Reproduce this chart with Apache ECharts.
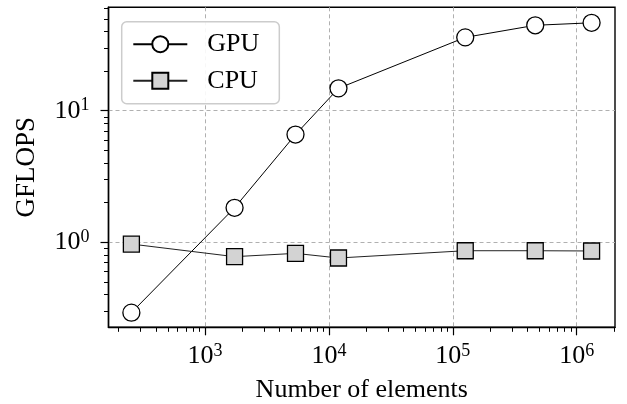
<!DOCTYPE html>
<html>
<head>
<meta charset="utf-8">
<script src="https://cdn.jsdelivr.net/npm/echarts@6/dist/echarts.min.js"></script>
<style>
  html, body { margin: 0; padding: 0; background: #ffffff; }
  #chart { width: 627px; height: 404px; }
</style>
</head>
<body>
<div id="chart"></div>
<script>
var elements = [254, 1730, 5370, 11940, 126000, 463000, 1320000]
var gpuGflops = [0.292, 1.83, 6.59, 14.8, 36.1, 44.6, 46.6]
var cpuGflops = [0.97, 0.778, 0.824, 0.76, 0.863, 0.863, 0.859]

var xMajor = [1e3, 1e4, 1e5, 1e6]
var xMinor = [200, 300, 400, 500, 600, 700, 800, 900,
  2e3, 3e3, 4e3, 5e3, 6e3, 7e3, 8e3, 9e3,
  2e4, 3e4, 4e4, 5e4, 6e4, 7e4, 8e4, 9e4,
  2e5, 3e5, 4e5, 5e5, 6e5, 7e5, 8e5, 9e5, 2e6]
var yMajor = [1, 10]
var yMinor = [0.3, 0.4, 0.5, 0.6, 0.7, 0.8, 0.9, 2, 3, 4, 5, 6, 7, 8, 9, 20, 30, 40, 50, 60]

var font = 'Liberation Serif'

function pairs(xs, ys) {
  var out = []
  for (var i = 0; i < xs.length; i++) {
    out.push([xs[i], ys[i]])
  }
  return out
}

// 10^n label with a raised exponent
function powLabel(value) {
  var n = Math.round(Math.log10(value))
  return '{b|10}{s|' + n + '}'
}

var powRich = {
  b: { fontFamily: font, fontSize: 26, color: '#000', lineHeight: 28 },
  s: { fontFamily: font, fontSize: 18, color: '#000', lineHeight: 17, verticalAlign: 'top' }
}

var myChart = echarts.init(document.getElementById('chart'), null, { renderer: 'canvas' })

var option = {
  backgroundColor: '#ffffff',
  animation: false,
  grid: {
    left: 108.5,
    right: 12,
    top: 7.3,
    bottom: 76.7,
    outerBoundsMode: 'none',
    show: true,
    borderColor: '#000',
    borderWidth: 1.4,
    backgroundColor: 'transparent'
  },
  legend: {
    orient: 'vertical',
    left: 121.7,
    top: 21.7,
    padding: [9.5, 20, 10, 10.6],
    itemGap: 10.5,
    itemWidth: 54,
    itemHeight: 20,
    backgroundColor: 'rgba(255,255,255,0.9)',
    borderColor: '#cccccc',
    borderWidth: 1.5,
    borderRadius: 5,
    textStyle: {
      fontFamily: font,
      fontSize: 26,
      color: '#000',
      padding: [0, 0, 0, 15]
    },
    data: ['GPU', 'CPU']
  },
  xAxis: [
    {
      type: 'log',
      min: 166,
      max: 2.04e6,
      name: 'Number of elements',
      nameLocation: 'middle',
      nameGap: 50,
      nameTextStyle: { fontFamily: font, fontSize: 26, color: '#000' },
      axisLine: { lineStyle: { color: '#000', width: 1.4 } },
      axisTick: { customValues: xMajor, length: 8, lineStyle: { color: '#000', width: 1.2 } },
      axisLabel: { customValues: xMajor, margin: 15, formatter: powLabel, rich: powRich },
      splitLine: { show: true, lineStyle: { color: '#b0b0b0', type: [4, 3], width: 1 } }
    },
    {
      type: 'log',
      min: 166,
      max: 2.04e6,
      position: 'bottom',
      axisLine: { show: false },
      axisTick: { customValues: xMinor, length: 4.5, lineStyle: { color: '#000', width: 1 } },
      axisLabel: { show: false },
      splitLine: { show: false }
    }
  ],
  yAxis: [
    {
      type: 'log',
      min: 0.226,
      max: 61.1,
      name: 'GFLOPS',
      nameLocation: 'middle',
      nameGap: 68,
      nameTextStyle: { fontFamily: font, fontSize: 27, color: '#000' },
      axisLine: { lineStyle: { color: '#000', width: 1.4 } },
      axisTick: { customValues: yMajor, length: 8, lineStyle: { color: '#000', width: 1.2 } },
      axisLabel: { customValues: yMajor, margin: 19, formatter: powLabel, rich: powRich },
      splitLine: { show: true, lineStyle: { color: '#b0b0b0', type: [4, 3], width: 1 } }
    },
    {
      type: 'log',
      min: 0.226,
      max: 61.1,
      position: 'left',
      axisLine: { show: false },
      axisTick: { customValues: yMinor, length: 4.5, lineStyle: { color: '#000', width: 1 } },
      axisLabel: { show: false },
      splitLine: { show: false }
    }
  ],
  series: [
    {
      name: 'GPU',
      type: 'line',
      data: pairs(elements, gpuGflops),
      symbol: 'circle',
      symbolSize: 17,
      lineStyle: { color: '#000', width: 1 },
      itemStyle: { color: '#ffffff', borderColor: '#000', borderWidth: 1.3 },
      z: 3
    },
    {
      name: 'CPU',
      type: 'line',
      data: pairs(elements, cpuGflops),
      symbol: 'rect',
      symbolSize: 16,
      lineStyle: { color: '#222', width: 1 },
      itemStyle: { color: '#d3d3d3', borderColor: '#000', borderWidth: 1.3 },
      z: 3
    }
  ]
}

myChart.setOption(option, true)
window.addEventListener('resize', function () {
  myChart.resize()
})
</script>
</body>
</html>
